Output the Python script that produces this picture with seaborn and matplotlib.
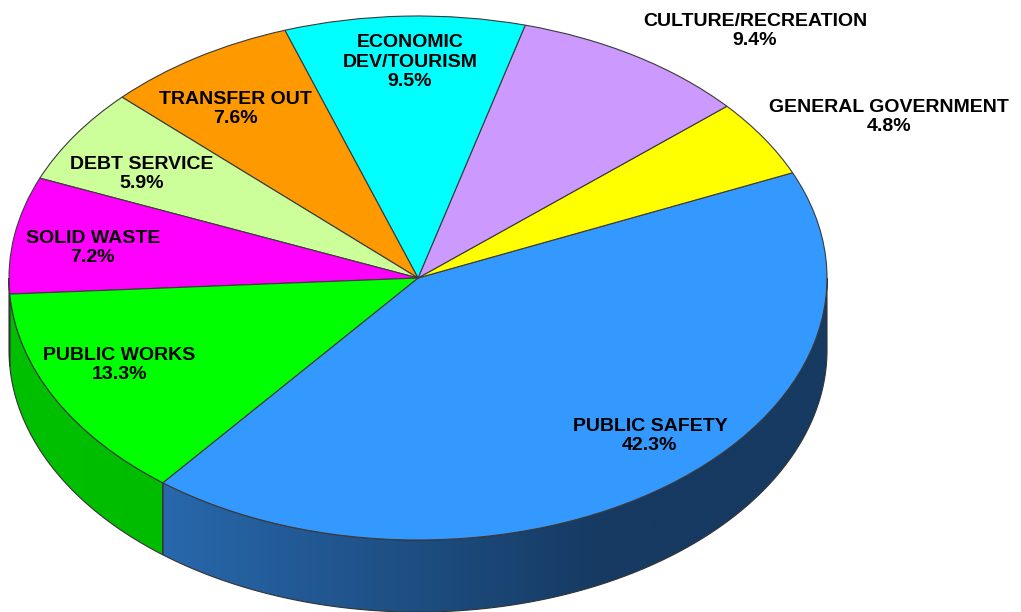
import numpy as np
import seaborn as sns
import matplotlib.pyplot as plt
from matplotlib.colors import to_rgb
from matplotlib.patches import Polygon

# dados do grafico (ordem anti-horaria a partir de PUBLIC SAFETY)
categorias = ["PUBLIC SAFETY", "GENERAL GOVERNMENT", "CULTURE/RECREATION",
              "ECONOMIC\nDEV/TOURISM", "TRANSFER OUT", "DEBT SERVICE",
              "SOLID WASTE", "PUBLIC WORKS"]
percentuais = [42.3, 4.8, 9.4, 9.5, 7.6, 5.9, 7.2, 13.3]
cores = ["#3399FF", "#FFFF00", "#CC99FF", "#00FFFF",
         "#FF9900", "#CCFF99", "#FF00FF", "#00FF00"]
# cor da lateral (inicio, fim do degrade)
cores_lado = {"PUBLIC SAFETY": ("#2868AC", "#163A62"),
              "PUBLIC WORKS": ("#00C000", "#00B000"),
              "SOLID WASTE": ("#CC00CC", "#CC00CC")}

# posicao dos rotulos (coordenadas na elipse unitaria)
pos_rotulos = [(0.567, -0.603), (1.152, 0.615), (0.824, 0.943), (-0.02, 0.824),
               (-0.447, 0.645), (-0.675, 0.397), (-0.795, 0.115), (-0.731, -0.332)]

sns.set_theme(style="white")
plt.rcParams['font.family'] = ['Liberation Sans', 'DejaVu Sans']

fig = plt.figure(figsize=(10.21, 6.12), dpi=100)
ax = fig.add_axes([0, 0, 1, 1])

angulo_inicial = 231.4
profundidade = 0.275

wedges, _ = ax.pie(percentuais, colors=cores, startangle=angulo_inicial,
                   counterclock=True,
                   wedgeprops=dict(edgecolor="#3a3a3a", linewidth=0.8, zorder=3))

# lateral 3D com degrade
for w, nome in zip(wedges, categorias):
    t1, t2 = w.theta1, w.theta2
    c_ini, c_fim = cores_lado.get(nome, ("#888888", "#888888"))
    c_ini, c_fim = np.array(to_rgb(c_ini)), np.array(to_rgb(c_fim))
    for k in (0, 360):
        lo, hi = max(t1, 180 + k), min(t2, 360 + k)
        if hi <= lo:
            continue
        tt = np.radians(np.linspace(lo, hi, 300))
        xs = np.concatenate([np.cos(tt), np.cos(tt[::-1])])
        ys = np.concatenate([np.sin(tt), np.sin(tt[::-1]) - profundidade])
        poly = Polygon(np.column_stack([xs, ys]), closed=True,
                       fc="none", ec="#333333", lw=0.8, zorder=2)
        ax.add_patch(poly)
        x_min, x_max = xs.min(), xs.max()
        x0 = np.cos(np.radians(lo))
        gx = np.linspace(x_min, x_max, 400)
        if x0 < 0.45:
            f = np.clip((gx - x0) / (0.45 - x0), 0, 1)
        else:
            f = np.zeros_like(gx)
        img = c_ini[None, :] + (c_fim - c_ini)[None, :] * f[:, None]
        im = ax.imshow(img[None, :, :], extent=[x_min, x_max, ys.min(), ys.max()],
                       aspect='auto', zorder=1, interpolation='bilinear')
        im.set_clip_path(poly)

# rotulos
for nome, p, (x, y) in zip(categorias, percentuais, pos_rotulos):
    ax.text(x, y, f"{nome}\n{p:.1f}%", ha="center", va="center",
            fontsize=14, fontweight="bold", color="black", zorder=5,
            linespacing=1.2)

ax.set_aspect('auto')
ax.set_xlim(-418 / 409, (1021 - 418) / 409)
ax.set_ylim((278 - 612) / 262, 278 / 262)
ax.axis('off')

plt.savefig("out.png", dpi=100)
